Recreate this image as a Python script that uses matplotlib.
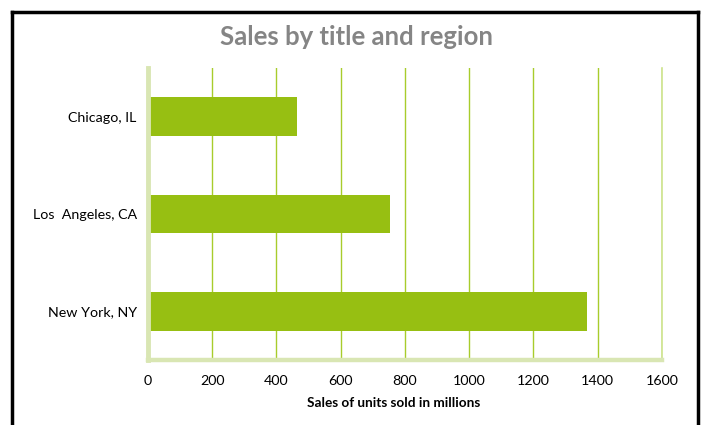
import matplotlib.pyplot as plt
from matplotlib.lines import Line2D

# data (bottom to top)
regions = ['New York, NY', 'Los  Angeles, CA', 'Chicago, IL']
sales = [1367, 753, 464]
xticks = [0, 200, 400, 600, 800, 1000, 1200, 1400, 1600]

bar_color = '#97BF12'
axis_color = '#D9E6B3'
grid_color = '#A8CC2C'

plt.rcParams['font.family'] = ['Lato', 'DejaVu Sans']

fig = plt.figure(figsize=(7.02, 4.25), dpi=100)
ax = fig.add_axes([0.2108, 0.153, 0.7322, 0.687])

ax.barh(range(len(regions)), sales, height=0.4, color=bar_color, zorder=3)
ax.set_yticks(range(len(regions)))
ax.set_yticklabels(regions, fontsize=10.3)
ax.set_ylim(-0.5, len(regions) - 0.5)

ax.set_xlim(0, 1600)
ax.set_xticks(xticks)
ax.set_xticklabels([str(t) for t in xticks], fontsize=10.3)
ax.tick_params(length=0, pad=11, axis='x')
ax.tick_params(length=0, pad=8, axis='y')

ax.grid(axis='x', color=grid_color, linewidth=1.0, zorder=1)
ax.set_axisbelow(True)

ax.spines['top'].set_visible(False)
ax.spines['right'].set_color('#CDE38C')
ax.spines['right'].set_linewidth(1.2)
ax.spines['left'].set_color(axis_color)
ax.spines['left'].set_linewidth(3.5)
ax.spines['bottom'].set_color(axis_color)
ax.spines['bottom'].set_linewidth(3.2)
ax.spines['left'].set_zorder(4)

ax.set_xlabel('Sales of units sold in millions', fontsize=9.8, fontweight='bold')
ax.xaxis.set_label_coords((394 - 148) / 514, -0.128)
fig.text(0.508, 0.913, 'Sales by title and region', ha='center', va='center',
         fontsize=18.5, fontweight='bold', color='#858585')

# black frame around the chart area
for xs, ys in [([11.5, 11.5], [-5, 413.5]), ([11.5, 698], [413.5, 413.5]), ([698, 698], [413.5, -5])]:
    fig.add_artist(Line2D([x / 702 for x in xs], [y / 425 for y in ys],
                          color='black', linewidth=2.5, transform=fig.transFigure))

fig.savefig('out.png', dpi=100)
